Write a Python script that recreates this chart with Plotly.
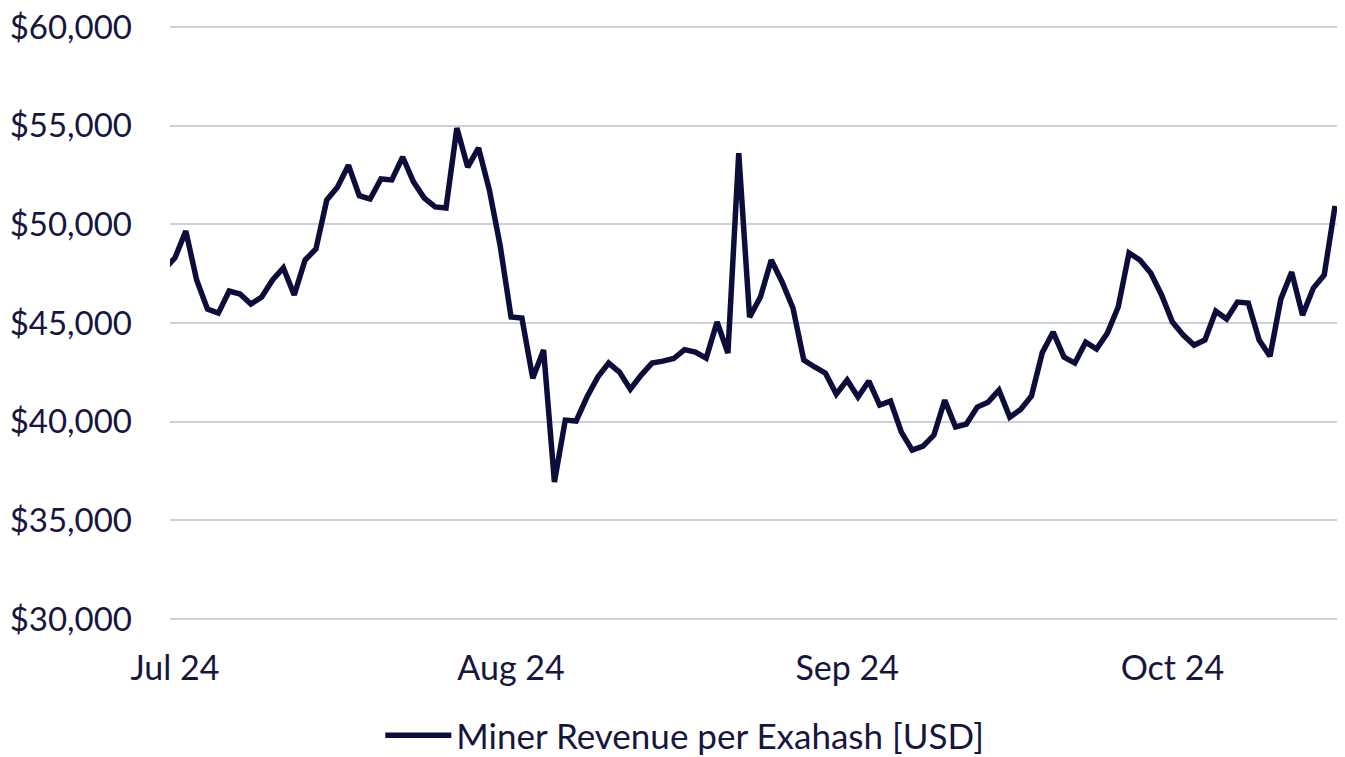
import pandas as pd
import plotly.graph_objects as go

start_date = "2024-06-30"
revenue = [
    47700,
    # Jul
    48300, 49660, 47180, 45700, 45500, 46620, 46470, 45960, 46320, 47180,
    47790, 46420, 48190, 48750, 51230, 51890, 53000, 51450, 51280, 52300,
    52250, 53410, 52150, 51330, 50880, 50830, 54880, 52900, 53870, 51740,
    48900,
    # Aug
    45300, 45250, 42200, 43630, 36940, 40080, 40030, 41250, 42260, 42970,
    42510, 41650, 42360, 42970, 43070, 43200, 43650, 43530, 43220, 45050,
    43480, 53610, 45300, 46320, 48190, 47080, 45760, 43120, 42770, 42460,
    41400,
    # Sep
    42110, 41250, 42060, 40840, 41040, 39470, 38560, 38760, 39320, 41090,
    39730, 39880, 40740, 40990, 41600, 40230, 40620, 41300, 43500, 44540,
    43270, 42970, 44030, 43680, 44490, 45810, 48550, 48190, 47530, 46420,
    # Oct
    45050, 44390, 43880, 44140, 45600, 45200, 46060, 46010, 44140, 43320,
    46210, 47580, 45400, 46770, 47430, 50930,
]
dates = pd.date_range(start_date, periods=len(revenue), freq="D")

tick_vals = ["2024-07-01", "2024-08-01", "2024-09-01", "2024-10-01"]
tick_text = ["Jul 24", "Aug 24", "Sep 24", "Oct 24"]
y_ticks = [30000, 35000, 40000, 45000, 50000, 55000, 60000]
y_tick_text = [f"${v:,}" for v in y_ticks]
series_name = "Miner Revenue per Exahash [USD]"

LINE = "#0d0d3b"
TEXT = "#16163f"
GRID = "#c9d1db"
FONT = "Lato"

fig = go.Figure()
fig.add_trace(go.Scatter(
    x=dates, y=revenue, mode="lines", name=series_name,
    line=dict(color=LINE, width=5.5), showlegend=True,
))

# page body has an 8px default margin, so the figure is sized/offset for it
fig.update_layout(
    width=1337, height=749,
    margin=dict(l=162, r=5, t=16, b=135, autoexpand=False),
    paper_bgcolor="white", plot_bgcolor="white",
    font=dict(family=FONT, size=34, color=TEXT),
    showlegend=True,
    legend=dict(orientation="h", x=0.44, xanchor="center", y=-0.19, yanchor="middle",
                font=dict(family=FONT, size=35, color=TEXT), itemwidth=66,
                bgcolor="rgba(0,0,0,0)"),
)
fig.update_xaxes(
    range=[pd.Timestamp("2024-07-01") - pd.Timedelta(hours=11),
           pd.Timestamp("2024-10-16") + pd.Timedelta(hours=11)],
    tickvals=tick_vals, ticktext=tick_text, showgrid=False, zeroline=False,
    showline=False, ticks="", ticklabelstandoff=23, automargin=False,
    tickfont=dict(family=FONT, size=34, color=TEXT),
)
fig.update_yaxes(
    range=[29850, 60150], tickvals=y_ticks, ticktext=y_tick_text,
    showgrid=True, gridcolor=GRID, gridwidth=2, zeroline=False, showline=False,
    ticks="", ticklabelstandoff=37, automargin=False, ticklabeloverflow="allow",
    tickfont=dict(family=FONT, size=33, color=TEXT),
)

fig.write_html("out.html")
